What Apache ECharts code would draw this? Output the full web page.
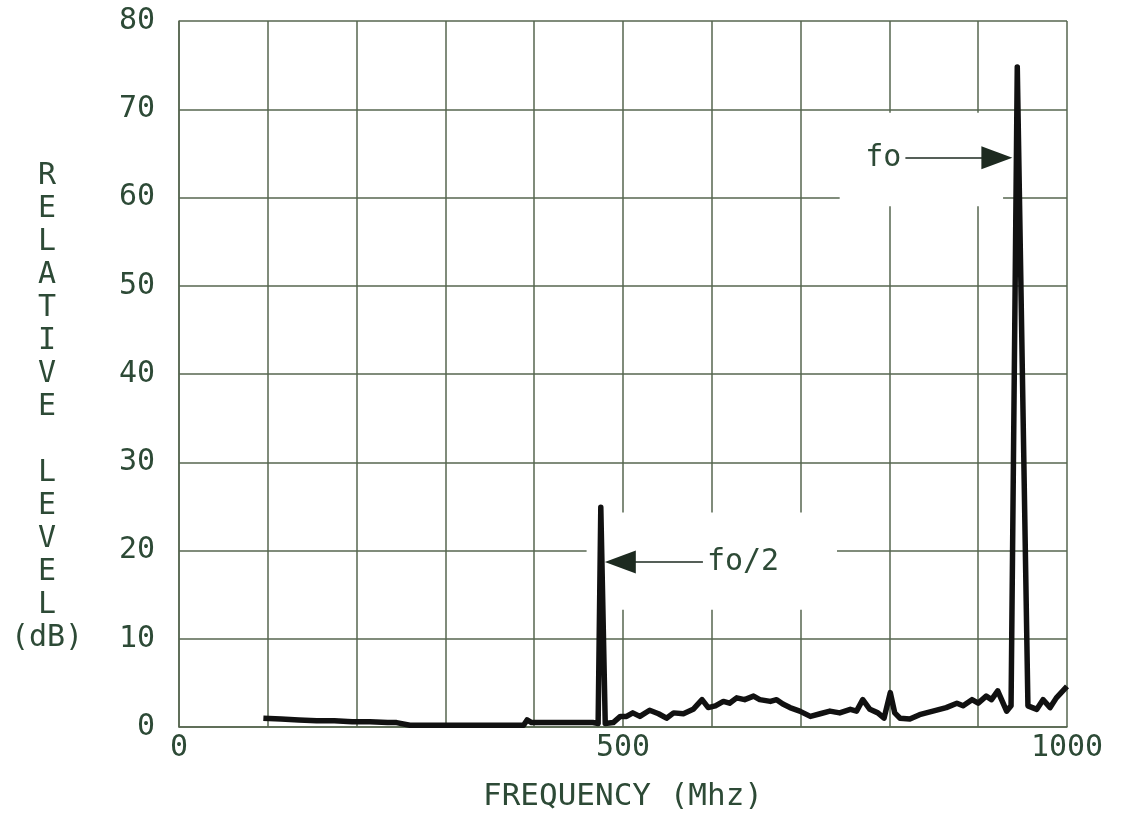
<!DOCTYPE html>
<html>
<head>
<meta charset="utf-8">
<script src="https://cdn.jsdelivr.net/npm/echarts@6/dist/echarts.min.js"></script>
<style>
  html, body { margin: 0; padding: 0; background: #fff; }
  #chart { width: 1121px; height: 817px; }
</style>
</head>
<body>
<div id="chart"></div>
<script>
// spectrum trace
var freq = [95, 115, 135, 155, 175, 195, 215, 235, 245, 260, 300, 350, 388, 392, 397, 430, 466, 472,
  475, 480, 489, 497, 504, 511, 519, 530, 540, 549, 557, 568, 579, 589, 596, 604, 613, 620, 628, 637,
  647, 654, 666, 673, 680, 688, 699, 711, 722, 733, 744, 756, 763, 770, 778, 787, 794, 801, 806, 812,
  823, 834, 849, 864, 876, 883, 893, 900, 909, 915, 922, 932, 937, 944, 956, 966, 973, 981, 988, 1000]
var level = [1.0, 0.9, 0.8, 0.7, 0.7, 0.6, 0.6, 0.5, 0.5, 0.2, 0.2, 0.2, 0.2, 0.8, 0.5, 0.5, 0.5, 0.4,
  24.9, 0.4, 0.5, 1.2, 1.2, 1.6, 1.2, 1.9, 1.5, 1.0, 1.6, 1.5, 2.0, 3.1, 2.2, 2.4, 2.9, 2.7, 3.3, 3.1,
  3.5, 3.1, 2.9, 3.1, 2.6, 2.2, 1.8, 1.2, 1.5, 1.8, 1.6, 2.0, 1.8, 3.1, 2.0, 1.6, 1.0, 3.9, 1.6, 1.0,
  0.9, 1.4, 1.8, 2.2, 2.7, 2.4, 3.1, 2.7, 3.5, 3.1, 4.1, 1.8, 2.4, 74.8, 2.4, 2.0, 3.1, 2.2, 3.3, 4.6]
var xTickLabels = [0, 500, 1000]
var fontFam = '"DejaVu Sans Mono", monospace'
var ink = '#2d4a36'
var gridColor = '#56664f'

var chart = echarts.init(document.getElementById('chart'))
var points = freq.map(function(f, i) { return [f, level[i]] })

chart.setOption({
  backgroundColor: '#fff',
  animation: false,
  grid: { left: 179, right: 54, top: 21, bottom: 86 },
  xAxis: {
    type: 'value',
    min: 0,
    max: 1000,
    interval: 100,
    name: 'FREQUENCY (Mhz)',
    nameLocation: 'middle',
    nameGap: 54,
    nameTextStyle: { color: ink, fontFamily: fontFam, fontSize: 31 },
    axisLine: { show: true, lineStyle: { color: gridColor, width: 1.5 } },
    axisTick: { show: false },
    splitLine: { show: true, lineStyle: { color: gridColor, width: 1.5 } },
    axisLabel: {
      color: ink,
      fontFamily: fontFam,
      fontSize: 30,
      margin: 6,
      formatter: function(v) {
        return xTickLabels.indexOf(v) >= 0 ? String(v) : ''
      }
    }
  },
  yAxis: {
    type: 'value',
    min: 0,
    max: 80,
    interval: 10,
    axisLine: { show: true, lineStyle: { color: gridColor, width: 1.5 } },
    axisTick: { show: false },
    splitLine: { show: true, lineStyle: { color: gridColor, width: 1.5 } },
    axisLabel: { color: ink, fontFamily: fontFam, fontSize: 30, margin: 24 }
  },
  graphic: [{
    type: 'text',
    x: 47,
    y: 160,
    style: {
      text: 'R\nE\nL\nA\nT\nI\nV\nE\n\nL\nE\nV\nE\nL\n(dB)',
      fill: ink,
      font: '30px ' + fontFam,
      textAlign: 'center',
      textVerticalAlign: 'top',
      lineHeight: 33
    }
  }],
  series: [
    {
      // white patches behind the annotations
      type: 'line',
      z: 1,
      data: [],
      silent: true,
      markArea: {
        silent: true,
        itemStyle: { color: '#fff', opacity: 1 },
        data: [
          [{ coord: [744, 59.0] }, { coord: [928, 69.6] }],
          [{ coord: [459, 13.3] }, { coord: [741, 24.3] }]
        ]
      }
    },
    {
      type: 'line',
      z: 3,
      data: points,
      showSymbol: false,
      lineStyle: { color: '#111', width: 5.5, join: 'round' },
      markLine: {
        silent: true,
        symbol: ['none', 'triangle'],
        symbolSize: [23, 31],
        lineStyle: { color: '#1d2a20', width: 1.5, type: 'solid' },
        label: {
          show: true,
          position: 'start',
          distance: 4,
          color: ink,
          fontFamily: fontFam,
          fontSize: 30
        },
        data: [
          [{ coord: [818, 64.5], label: { formatter: 'fo' } }, { coord: [921, 64.5] }],
          [{ coord: [590, 18.7], label: { formatter: 'fo/2' } }, { coord: [497, 18.7] }]
        ]
      }
    }
  ]
})
</script>
</body>
</html>
